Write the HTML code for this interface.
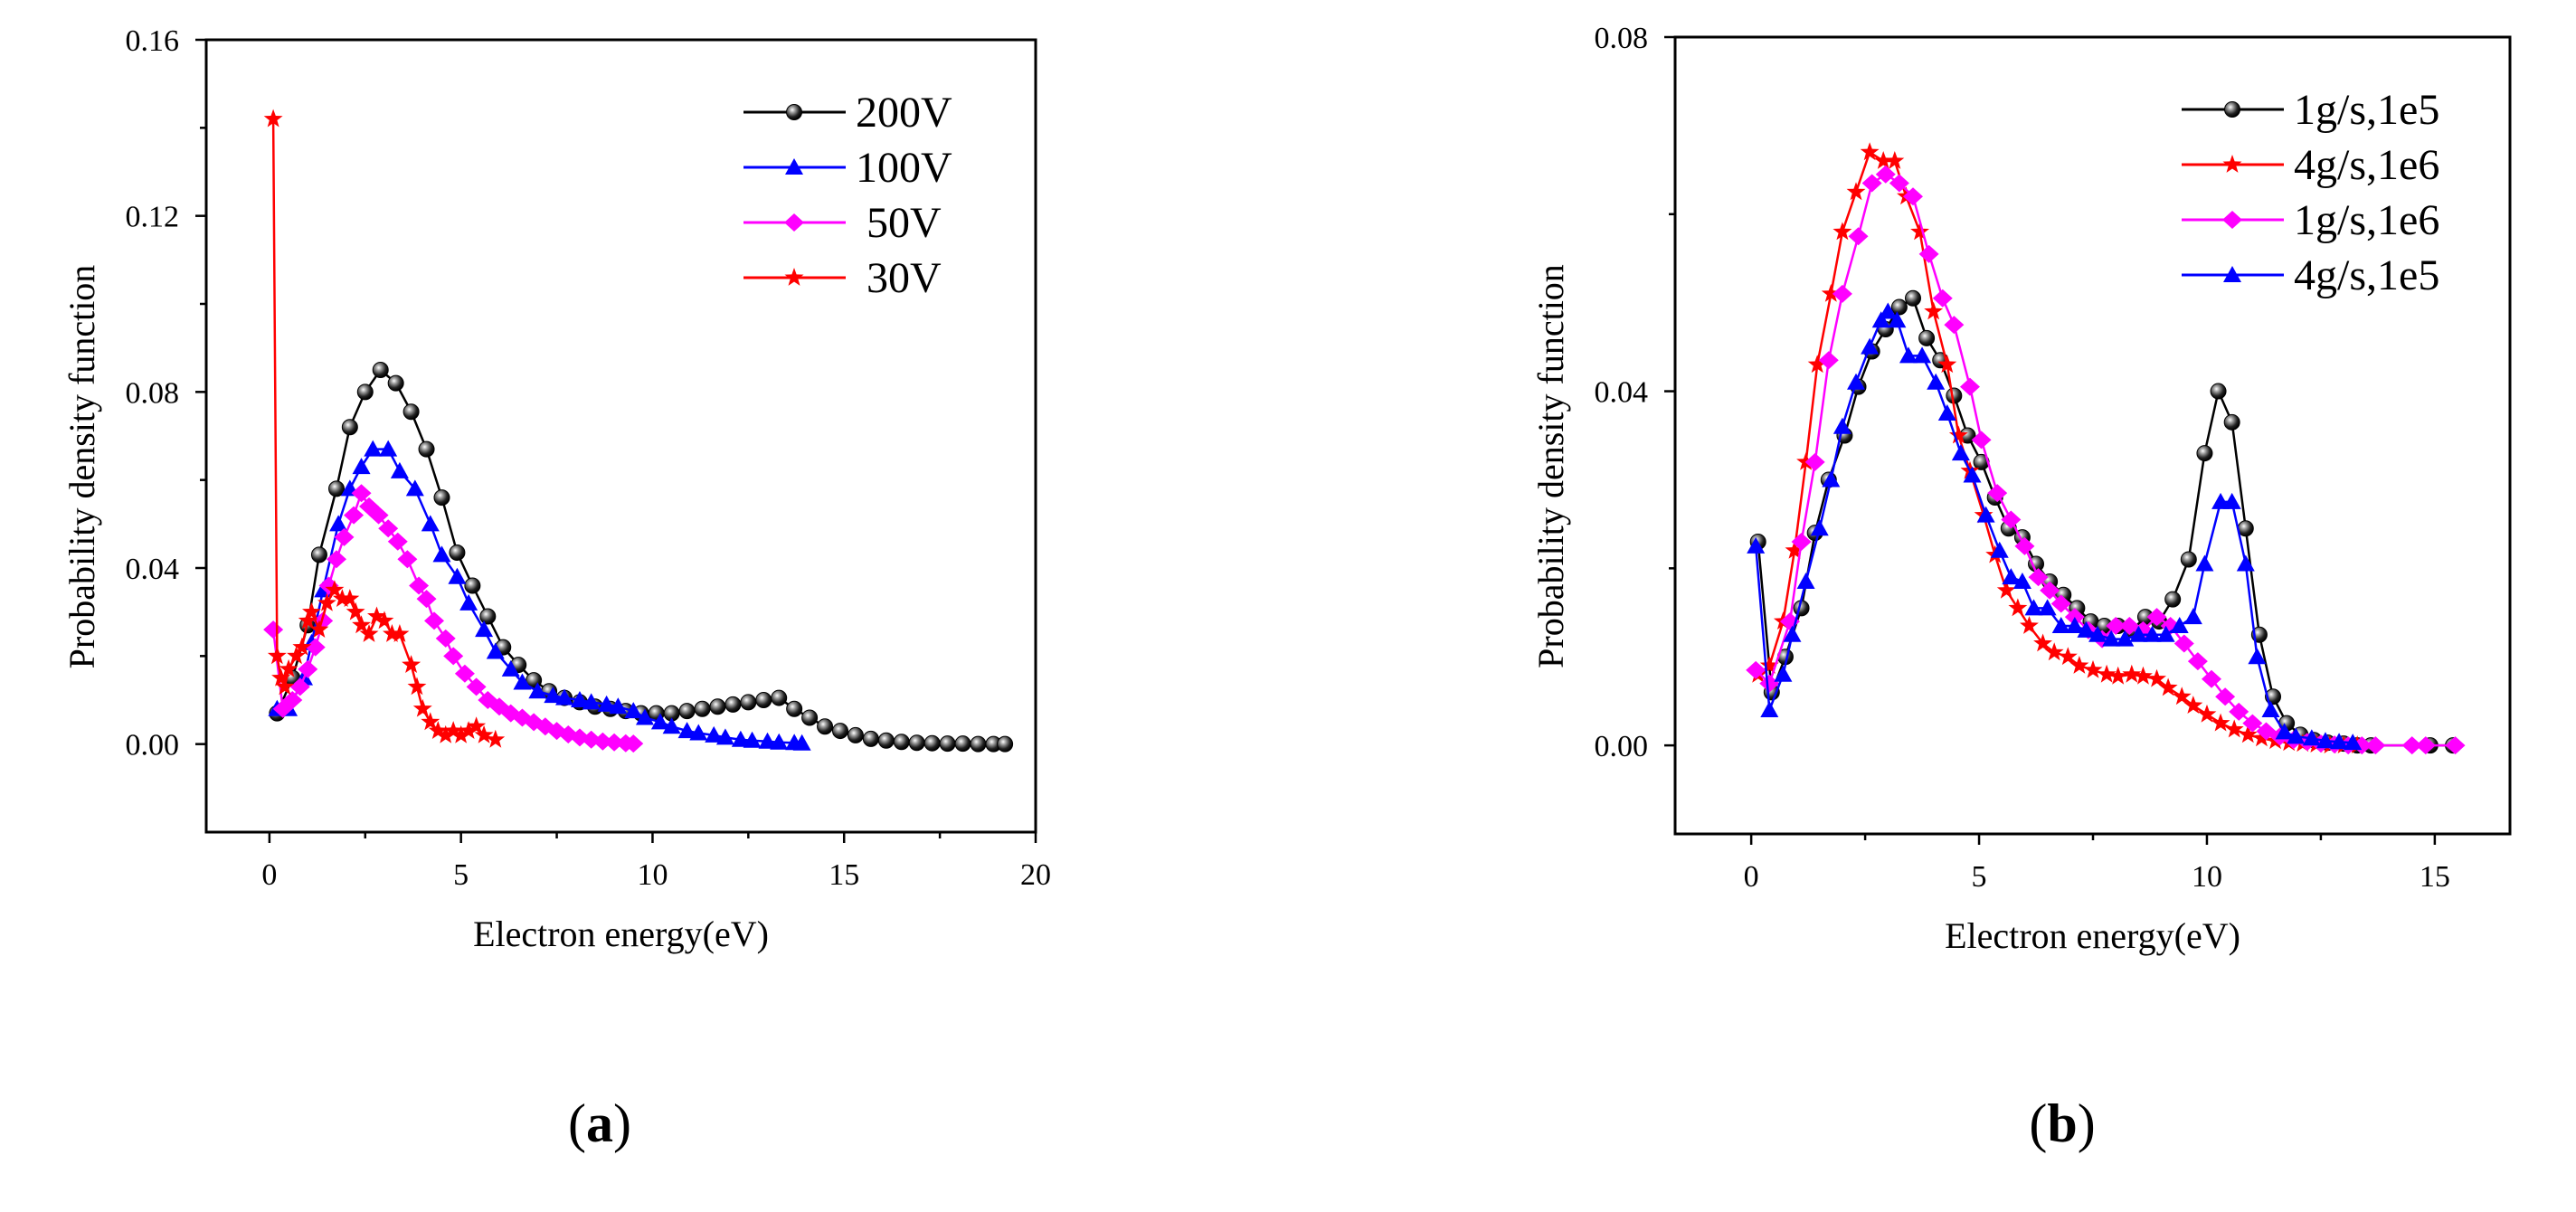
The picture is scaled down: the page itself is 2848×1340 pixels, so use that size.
<!DOCTYPE html>
<html><head><meta charset="utf-8"><style>
html,body{margin:0;padding:0;background:#fff;}
svg{display:block;font-family:"Liberation Serif",serif;}
</style></head><body>
<svg id="chart" width="2848" height="1340" viewBox="0 0 2848 1340" xmlns="http://www.w3.org/2000/svg">
<defs>
<radialGradient id="sph" cx="0.38" cy="0.35" r="0.65">
<stop offset="0" stop-color="#ffffff"/><stop offset="0.3" stop-color="#9a9a9a"/><stop offset="0.7" stop-color="#222"/><stop offset="1" stop-color="#000"/>
</radialGradient>
</defs>
<g id="root"></g>
<text x="663" y="1262" font-size="60" text-anchor="middle">(<tspan font-weight="bold">a</tspan>)</text>
<text x="2280" y="1262" font-size="60" text-anchor="middle">(<tspan font-weight="bold">b</tspan>)</text>
</svg>
<script>
// ---- Panel (a) data ----
const a200x=[0.2,0.6,1.0,1.3,1.75,2.1,2.5,2.9,3.3,3.7,4.1,4.5,4.9,5.3,5.7,6.1,6.5,6.9,7.3,7.7,8.1,8.5,8.9,9.3,9.7,10.1,10.5,10.9,11.3,11.7,12.1,12.5,12.9,13.3,13.7,14.1,14.5,14.9,15.3,15.7,16.1,16.5,16.9,17.3,17.7,18.1,18.5,18.9,19.2];
const a200y=[0.007,0.015,0.027,0.043,0.058,0.072,0.080,0.085,0.082,0.0755,0.067,0.056,0.0435,0.036,0.029,0.022,0.018,0.0145,0.012,0.0105,0.0095,0.0085,0.008,0.0075,0.007,0.007,0.007,0.0075,0.008,0.0085,0.009,0.0095,0.010,0.0105,0.008,0.006,0.004,0.003,0.002,0.0012,0.0008,0.0005,0.0003,0.0002,0.0001,0.0001,0,0,0];
const a100x=[0.2,0.5,0.9,1.1,1.4,1.8,2.1,2.4,2.7,3.1,3.4,3.8,4.2,4.5,4.9,5.2,5.6,5.9,6.3,6.6,7.0,7.4,7.7,8.1,8.4,8.8,9.1,9.5,9.8,10.2,10.5,10.9,11.2,11.6,11.9,12.3,12.6,13.0,13.3,13.7,13.9];
const a100y=[0.008,0.008,0.015,0.023,0.035,0.05,0.058,0.063,0.067,0.067,0.062,0.058,0.05,0.043,0.038,0.032,0.026,0.021,0.017,0.014,0.012,0.011,0.0105,0.01,0.0095,0.009,0.0085,0.0075,0.006,0.005,0.004,0.003,0.0025,0.002,0.0015,0.001,0.0008,0.0006,0.0004,0.0003,0.0002];
const a50x=[0.1,0.35,0.6,0.8,1.0,1.2,1.4,1.55,1.75,1.95,2.2,2.4,2.6,2.85,3.1,3.35,3.6,3.9,4.1,4.3,4.6,4.8,5.1,5.4,5.7,6.0,6.3,6.6,6.9,7.2,7.5,7.8,8.1,8.4,8.7,9.0,9.3,9.5];
const a50y=[0.026,0.008,0.01,0.013,0.017,0.022,0.028,0.036,0.042,0.047,0.052,0.057,0.054,0.052,0.049,0.046,0.042,0.036,0.033,0.028,0.024,0.02,0.016,0.013,0.01,0.0085,0.007,0.006,0.005,0.004,0.003,0.0022,0.0015,0.001,0.0006,0.0004,0.0002,0.0001];
const a30x=[0.1,0.2,0.3,0.4,0.5,0.7,0.85,1.0,1.1,1.3,1.5,1.7,1.9,2.1,2.25,2.4,2.6,2.8,3.0,3.2,3.4,3.7,3.85,4.0,4.2,4.4,4.6,4.8,5.0,5.2,5.4,5.6,5.9];
const a30y=[0.142,0.02,0.015,0.013,0.017,0.02,0.022,0.028,0.03,0.026,0.032,0.035,0.033,0.033,0.03,0.027,0.025,0.029,0.028,0.025,0.025,0.018,0.013,0.008,0.005,0.003,0.002,0.003,0.002,0.003,0.004,0.002,0.001];
// ---- Panel (b) data ----
const b1e5x=[0.15,0.45,0.75,1.1,1.4,1.7,2.05,2.35,2.65,2.95,3.25,3.55,3.85,4.15,4.45,4.75,5.05,5.35,5.65,5.95,6.25,6.55,6.85,7.15,7.45,7.75,8.05,8.35,8.65,8.95,9.25,9.6,9.95,10.25,10.55,10.85,11.15,11.45,11.75,12.05,12.35,12.65,13.0,13.3,13.6,14.9,15.4];
const b1e5y=[0.023,0.006,0.01,0.0155,0.024,0.03,0.035,0.0405,0.0445,0.047,0.0495,0.0505,0.046,0.0435,0.0395,0.035,0.032,0.028,0.0245,0.0235,0.0205,0.0185,0.017,0.0155,0.014,0.0135,0.0135,0.013,0.0145,0.014,0.0165,0.021,0.033,0.04,0.0365,0.0245,0.0125,0.0055,0.0025,0.0012,0.0006,0.0003,0.0002,0,0,0,0];
const b4e6x=[0.15,0.4,0.7,0.95,1.2,1.45,1.75,2.0,2.3,2.6,2.9,3.15,3.4,3.7,4.0,4.3,4.55,4.8,5.1,5.35,5.6,5.85,6.1,6.4,6.65,6.95,7.2,7.5,7.8,8.05,8.35,8.6,8.9,9.15,9.45,9.7,10.0,10.3,10.6,10.9,11.2,11.5,11.8,12.1,12.4,12.7,13.0,13.3];
const b4e6y=[0.008,0.009,0.014,0.022,0.032,0.043,0.051,0.058,0.0625,0.067,0.066,0.066,0.062,0.058,0.049,0.043,0.035,0.031,0.026,0.0215,0.0175,0.0155,0.0135,0.0115,0.0105,0.01,0.009,0.0085,0.008,0.0078,0.008,0.0078,0.0075,0.0065,0.0055,0.0045,0.0035,0.0025,0.0018,0.0012,0.0008,0.0005,0.0003,0.0002,0.0001,0,0,0];
const b1e6x=[0.1,0.4,0.85,1.1,1.4,1.7,2.0,2.35,2.65,2.95,3.25,3.55,3.9,4.2,4.45,4.8,5.05,5.4,5.7,6.0,6.3,6.55,6.8,7.1,7.4,7.7,8.0,8.3,8.6,8.9,9.2,9.5,9.8,10.1,10.4,10.7,11.0,11.3,11.6,11.9,12.2,12.5,12.8,13.1,13.4,13.7,14.5,14.8,15.45];
const b1e6y=[0.0085,0.007,0.014,0.023,0.032,0.0435,0.051,0.0575,0.0635,0.0645,0.0635,0.062,0.0555,0.0505,0.0475,0.0405,0.0345,0.0285,0.0255,0.0225,0.019,0.0175,0.016,0.0145,0.013,0.012,0.0135,0.0135,0.013,0.0145,0.0135,0.0115,0.0095,0.0075,0.0055,0.0038,0.0025,0.0016,0.001,0.0006,0.0004,0.0002,0.0001,0,0,0,0,0,0];
const b4e5x=[0.1,0.4,0.7,0.9,1.2,1.5,1.75,2.0,2.3,2.6,2.85,3.0,3.2,3.45,3.75,4.05,4.3,4.6,4.85,5.15,5.45,5.7,5.95,6.2,6.5,6.8,7.1,7.35,7.6,7.9,8.2,8.5,8.8,9.1,9.4,9.7,9.95,10.3,10.55,10.85,11.1,11.4,11.7,11.95,12.3,12.6,12.9,13.2];
const b4e5y=[0.0225,0.004,0.008,0.0125,0.0185,0.0245,0.03,0.036,0.041,0.045,0.048,0.049,0.048,0.044,0.044,0.041,0.0375,0.033,0.0305,0.026,0.022,0.019,0.0185,0.0155,0.0155,0.0135,0.0135,0.013,0.0125,0.012,0.012,0.0125,0.0125,0.0125,0.0135,0.0145,0.0205,0.0275,0.0275,0.0205,0.01,0.004,0.0015,0.001,0.0008,0.0005,0.0004,0.0003];
const aXTicks=[0,5,10,15,20];
const aYTicks=[0,0.04,0.08,0.12,0.16];
const bXTicks=[0,5,10,15];
const bYTicks=[0,0.04,0.08];
const aLegend=["200V","100V","50V","30V"];
const bLegend=["1g/s,1e5","4g/s,1e6","1g/s,1e6","4g/s,1e5"];

const NS="http://www.w3.org/2000/svg";
const root=document.getElementById('root');
function mk(tag,attrs,parent){const e=document.createElementNS(NS,tag);for(const k in attrs)e.setAttribute(k,attrs[k]);(parent||root).appendChild(e);return e;}

function marker(g,type,cx,cy,color){
  let e;
  if(type==='sphere'){e=mk('circle',{cx:cx,cy:cy,r:8.5,fill:'url(#sph)',stroke:'#000','stroke-width':1},g);}
  else if(type==='tri'){e=mk('polygon',{points:`${cx},${cy-10} ${cx-10},${cy+8} ${cx+10},${cy+8}`,fill:color},g);}
  else if(type==='dia'){e=mk('polygon',{points:`${cx},${cy-10} ${cx+11},${cy} ${cx},${cy+10} ${cx-11},${cy}`,fill:color},g);}
  else {let p=[];for(let i=0;i<10;i++){const r=i%2?4.5:11;const an=-Math.PI/2+i*Math.PI/5;p.push((cx+r*Math.cos(an)).toFixed(1)+','+(cy+r*Math.sin(an)).toFixed(1));}
    e=mk('polygon',{points:p.join(' '),fill:color},g);}
  
  
}

function panel(cfg){
  const P=mk('g',{});
  
  
  const sx=v=>cfg.L+(v-cfg.xmin)/(cfg.xmax-cfg.xmin)*(cfg.R-cfg.L);
  const sy=v=>cfg.B-(v-cfg.ymin)/(cfg.ymax-cfg.ymin)*(cfg.B-cfg.T);
  const fr=mk('rect',{x:cfg.L,y:cfg.T,width:cfg.R-cfg.L,height:cfg.B-cfg.T,fill:'none',stroke:'#000','stroke-width':3},P);
  
  
  cfg.xt.forEach((v,i)=>{
    const x=sx(v);
    mk('line',{x1:x,y1:cfg.B,x2:x,y2:cfg.B+12,stroke:'#000','stroke-width':2.5},P);
    const t=mk('text',{x:x,y:cfg.B+58,'font-size':34,'text-anchor':'middle'},P);t.textContent=v;
    
    
    if(i<cfg.xt.length-1){const xm=sx(v+2.5);mk('line',{x1:xm,y1:cfg.B,x2:xm,y2:cfg.B+7,stroke:'#000','stroke-width':2.5},P);}
  });
  cfg.yt.forEach((v,i)=>{
    const y=sy(v);
    mk('line',{x1:cfg.L-12,y1:y,x2:cfg.L,y2:y,stroke:'#000','stroke-width':2.5},P);
    const t=mk('text',{x:cfg.L-30,y:y+12,'font-size':34,'text-anchor':'end'},P);t.textContent=v.toFixed(2);
    
    
    if(i<cfg.yt.length-1){const ym=sy(v+0.02);mk('line',{x1:cfg.L-7,y1:ym,x2:cfg.L,y2:ym,stroke:'#000','stroke-width':2.5},P);}
  });
  const xt=mk('text',{x:(cfg.L+cfg.R)/2,y:cfg.B+126,'font-size':40,'text-anchor':'middle'},P);xt.textContent='Electron energy(eV)';
  
  
  const yx=cfg.L-124, yc=(cfg.T+cfg.B)/2+34;
  const yt=mk('text',{x:yx,y:yc,'font-size':40,'text-anchor':'middle',transform:`rotate(-90 ${yx} ${yc})`},P);yt.textContent='Probability density function';
  
  
  cfg.series.forEach(s=>{
    const g=mk('g',{},P);
    
    
    const pts=s.x.map((v,i)=>sx(v).toFixed(1)+','+sy(s.y[i]).toFixed(1)).join(' ');
    mk('polyline',{points:pts,fill:'none',stroke:s.color,'stroke-width':2.5},g);
    s.x.forEach((v,i)=>marker(g,s.m,sx(v),sy(s.y[i]),s.color));
  });
  cfg.series.forEach((s,i)=>{
    const y=cfg.legY+i*61;
    const g=mk('g',{},P);
    
    
    mk('line',{x1:cfg.legX,y1:y,x2:cfg.legX+113,y2:y,stroke:s.color,'stroke-width':3},g);
    marker(g,s.m,cfg.legX+56,y,s.color);
    const t=mk('text',{x:cfg.legX+124+(s.label.length<4?12:0),y:y+16,'font-size':48},g);t.textContent=s.label;
  });
}

panel({name:'chart-a',L:228,R:1145,T:44,B:920,xmin:-1.65,xmax:20,ymin:-0.02,ymax:0.16,xt:aXTicks,yt:aYTicks,legX:822,legY:124,
  series:[{label:aLegend[0],x:a200x,y:a200y,color:'#000',m:'sphere'},{label:aLegend[1],x:a100x,y:a100y,color:'#0000ff',m:'tri'},
  {label:aLegend[2],x:a50x,y:a50y,color:'#ff00ff',m:'dia'},{label:aLegend[3],x:a30x,y:a30y,color:'#ff0000',m:'star'}]});
panel({name:'chart-b',L:1852,R:2775,T:41,B:922,xmin:-1.67,xmax:16.65,ymin:-0.01,ymax:0.08,xt:bXTicks,yt:bYTicks,legX:2412,legY:121,
  series:[{label:bLegend[0],x:b1e5x,y:b1e5y,color:'#000',m:'sphere'},{label:bLegend[1],x:b4e6x,y:b4e6y,color:'#ff0000',m:'star'},
  {label:bLegend[2],x:b1e6x,y:b1e6y,color:'#ff00ff',m:'dia'},{label:bLegend[3],x:b4e5x,y:b4e5y,color:'#0000ff',m:'tri'}]});
</script>
</body></html>
